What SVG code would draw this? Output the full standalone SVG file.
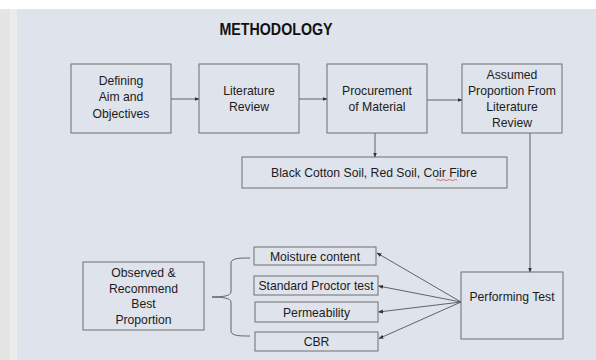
<svg xmlns="http://www.w3.org/2000/svg" width="596" height="360" viewBox="0 0 596 360">
<style>
.box{fill:none;stroke:#6f6f6f;stroke-width:1}
.t{font-family:"Liberation Sans",Arial,sans-serif;font-size:12.2px;fill:#1c1c1c;text-anchor:middle}
.title{font-family:"Liberation Sans",Arial,sans-serif;font-size:16px;font-weight:bold;fill:#111;text-anchor:middle}
.ln{fill:none;stroke:#555;stroke-width:0.9}
</style>
<defs>
<marker id="ah" markerWidth="5" markerHeight="5" refX="4.5" refY="2.5" orient="auto" markerUnits="userSpaceOnUse">
<path d="M0,0.5 L5,2.5 L0,4.5 Z" fill="#333"/>
</marker>
</defs>
<rect x="0" y="0" width="596" height="360" fill="#ffffff"/>
<rect x="0" y="9" width="10" height="351" fill="#e5e5e5"/>
<rect x="10" y="9" width="7" height="351" fill="#ececec"/>
<rect x="17" y="9" width="579" height="351" fill="#dfe3eb"/>
<text class="title" x="276" y="35" textLength="113" lengthAdjust="spacingAndGlyphs">METHODOLOGY</text>
<g id="connectors">
<line class="ln" x1="171" y1="99" x2="199" y2="99" marker-end="url(#ah)"/>
<line class="ln" x1="299" y1="99" x2="327" y2="99" marker-end="url(#ah)"/>
<line class="ln" x1="427" y1="100" x2="462" y2="100" marker-end="url(#ah)"/>
<line class="ln" x1="375" y1="133" x2="375" y2="157" marker-end="url(#ah)"/>
<line class="ln" x1="530" y1="133" x2="530" y2="272" marker-end="url(#ah)"/>
<line class="ln" x1="461" y1="302" x2="377" y2="253" marker-end="url(#ah)"/>
<line class="ln" x1="461" y1="302" x2="378.5" y2="286" marker-end="url(#ah)"/>
<line class="ln" x1="461" y1="302" x2="378.5" y2="312" marker-end="url(#ah)"/>
<line class="ln" x1="461" y1="302" x2="379" y2="338.5" marker-end="url(#ah)"/>
<path class="ln" d="M250,258 C240,258 233,258 231,262 L231,292 C231,296 222,297 212,297 C222,297 231,298 231,302 L231,332 C233,336 240,336 250,336"/>
</g>
<g id="defining">
<rect class="box" x="71" y="64" width="100" height="69"/>
<text class="t" x="121" y="85">Defining</text>
<text class="t" x="121" y="101">Aim and</text>
<text class="t" x="121" y="117.5">Objectives</text>
</g>
<g id="literature">
<rect class="box" x="199" y="64" width="100" height="69"/>
<text class="t" x="249" y="95">Literature</text>
<text class="t" x="249" y="111">Review</text>
</g>
<g id="procurement">
<rect class="box" x="327" y="64" width="100" height="69"/>
<text class="t" x="377" y="95">Procurement</text>
<text class="t" x="377" y="110.5">of Material</text>
</g>
<g id="assumed">
<rect class="box" x="462" y="64" width="100" height="69"/>
<text class="t" x="512" y="79">Assumed</text>
<text class="t" x="512" y="95">Proportion From</text>
<text class="t" x="512" y="111">Literature</text>
<text class="t" x="512" y="126.5">Review</text>
</g>
<g id="materials">
<rect class="box" x="242" y="157" width="265" height="31"/>
<text class="t" x="374" y="176.5">Black Cotton Soil, Red Soil, Coir Fibre</text>
<path d="M436,180 q1.5,-1 3,0 t3,0 t3,0 t3,0 t3,0 t3,0 t3,0" fill="none" stroke="#e05050" stroke-width="0.8"/>
</g>
<g id="performing">
<rect class="box" x="461" y="272" width="102" height="67"/>
<text class="t" x="512" y="300.5">Performing Test</text>
</g>
<g id="moisture">
<rect class="box" x="254" y="247" width="122" height="18"/>
<text class="t" x="315" y="260.5">Moisture content</text>
</g>
<g id="proctor">
<rect class="box" x="254" y="276" width="124" height="19"/>
<text class="t" x="316" y="289.5">Standard Proctor test</text>
</g>
<g id="permeability">
<rect class="box" x="255" y="302" width="123" height="20"/>
<text class="t" x="316.5" y="317">Permeability</text>
</g>
<g id="cbr">
<rect class="box" x="255" y="332" width="123" height="19"/>
<text class="t" x="316.5" y="345.5">CBR</text>
</g>
<g id="observed">
<rect class="box" x="83" y="262" width="121" height="68"/>
<text class="t" x="143.5" y="276.5">Observed &amp;</text>
<text class="t" x="143.5" y="292.5">Recommend</text>
<text class="t" x="143.5" y="308">Best</text>
<text class="t" x="143.5" y="323.5">Proportion</text>
</g>
</svg>
